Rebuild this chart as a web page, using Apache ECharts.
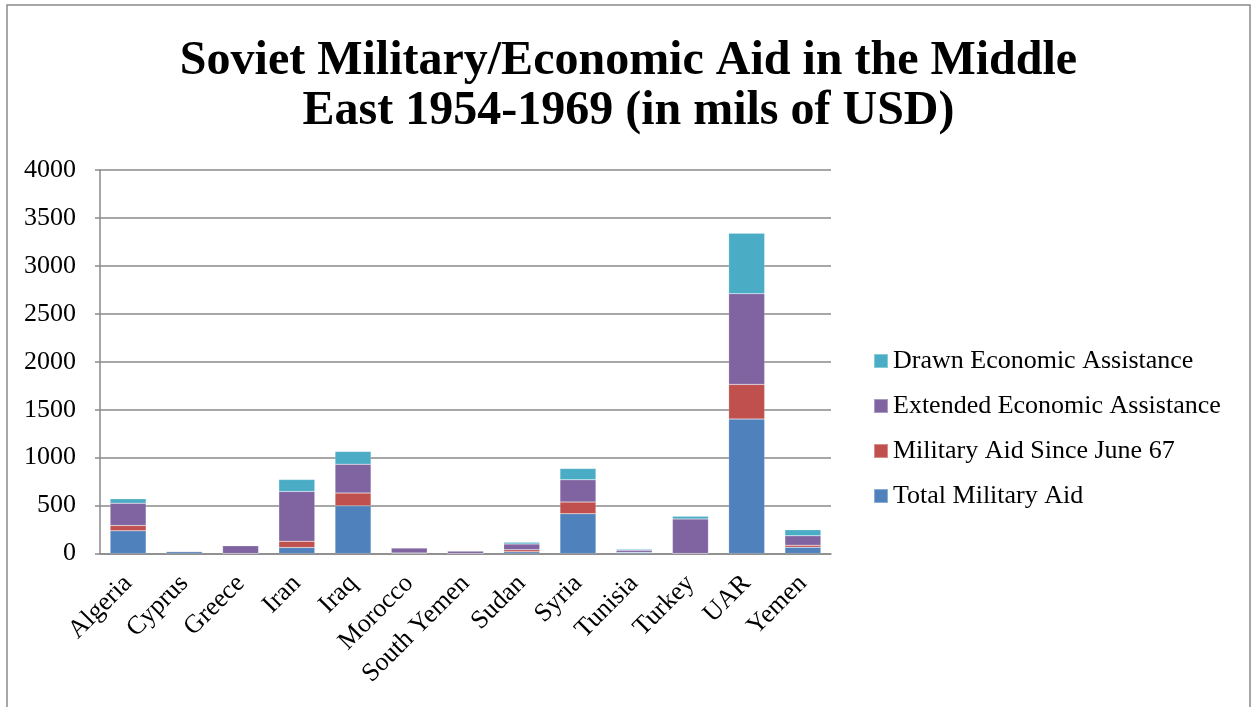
<!DOCTYPE html>
<html>
<head>
<meta charset="utf-8">
<script src="https://cdn.jsdelivr.net/npm/echarts@6/dist/echarts.min.js"></script>
<style>
html,body{margin:0;padding:0;background:#fff;}
#c{width:1257px;height:707px;}
</style>
</head>
<body>
<div id="c"></div>
<script>
const categories = ['Algeria','Cyprus','Greece','Iran','Iraq','Morocco','South Yemen','Sudan','Syria','Tunisia','Turkey','UAR','Yemen'];
const totalMilitaryAid      = [236, 20, 0, 63, 497, 5, 0, 17, 414, 12, 0, 1402, 66];
const militarySinceJune67   = [56, 0, 0, 65, 133, 0, 0, 21, 122, 0, 0, 362, 21];
const extendedEconomic      = [233, 0, 80, 519, 302, 52, 25, 62, 232, 23, 361, 946, 97];
const drawnEconomic         = [45, 0, 7, 125, 133, 6, 0, 18, 119, 10, 28, 631, 63];
const yTicks = [0, 500, 1000, 1500, 2000, 2500, 3000, 3500, 4000];

const FONT = "'Liberation Serif', 'Times New Roman', serif";
const chart = echarts.init(document.getElementById('c'));
function s(name, data, color) {
  return {
    name, type: 'bar', stack: 'all', data, barWidth: '64%',
    itemStyle: { color, borderColor: 'rgba(255,255,255,0.35)', borderWidth: 0.5 }
  };
}
chart.setOption({
  animation: false,
  backgroundColor: '#fff',
  graphic: [{
    type: 'rect', shape: { x: 7, y: 5, width: 1243, height: 720 },
    style: { fill: 'none', stroke: '#8a8a8a', lineWidth: 1.5 }, silent: true, z: -1
  }],
  title: {
    text: 'Soviet Military/Economic Aid in the Middle\nEast 1954-1969 (in mils of USD)',
    left: 'center', top: 32,
    textStyle: { fontFamily: FONT, fontWeight: 'bold', fontSize: 48, lineHeight: 50, color: '#000' }
  },
  legend: {
    orient: 'vertical', left: 873, top: 348, padding: 0,
    itemWidth: 14, itemHeight: 14, itemGap: 19,
    icon: 'rect',
    data: ['Drawn Economic Assistance','Extended Economic Assistance','Military Aid Since June 67','Total Military Aid'],
    textStyle: { fontFamily: FONT, fontSize: 26, lineHeight: 26, color: '#000' }
  },
  grid: { left: 100, right: 426, top: 170, bottom: 153.5, containLabel: false },
  xAxis: {
    type: 'category', data: categories,
    axisLine: { lineStyle: { color: '#8a8a8a', width: 1.5 } },
    axisTick: { show: false },
    axisLabel: { rotate: 45, fontFamily: FONT, fontSize: 26, color: '#000', margin: 26, interval: 0 }
  },
  yAxis: {
    type: 'value', min: 0, max: 4000, interval: 500,
    axisLine: { show: true, lineStyle: { color: '#8a8a8a', width: 1.5 } },
    axisTick: { show: true, length: 5, lineStyle: { color: '#8a8a8a', width: 1.5 } },
    splitLine: { lineStyle: { color: '#8a8a8a', width: 1.5 } },
    axisLabel: { fontFamily: FONT, fontSize: 26, color: '#000', margin: 24,
      formatter: v => yTicks.includes(v) ? String(v) : '' }
  },
  series: [
    s('Total Military Aid', totalMilitaryAid, '#4F81BD'),
    s('Military Aid Since June 67', militarySinceJune67, '#C0504D'),
    s('Extended Economic Assistance', extendedEconomic, '#8064A2'),
    s('Drawn Economic Assistance', drawnEconomic, '#4BACC6')
  ]
});
</script>
</body>
</html>
